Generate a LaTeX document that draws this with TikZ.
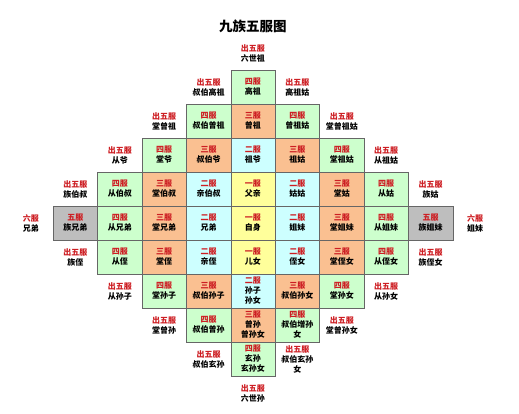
\documentclass[tikz,border=0pt]{standalone}
\usepackage{fontspec}
\setmainfont{Noto Sans CJK SC}
\definecolor{fured}{RGB}{205,30,35}
\definecolor{yiyellow}{RGB}{255,255,155}
\definecolor{ercyan}{RGB}{205,255,255}
\definecolor{sanorange}{RGB}{250,192,145}
\definecolor{sigreen}{RGB}{205,255,205}
\definecolor{wugray}{RGB}{190,190,190}
\newcommand{\fuhao}[1]{\textcolor{fured}{#1}}
\tikzset{
  fu/.style={minimum width=44.4pt, minimum height=34pt, inner sep=0pt, align=center,
             font=\fontsize{8}{10}\selectfont\bfseries},
  box/.style={fu, draw=black!60},
  lv1/.style={box, fill=yiyellow},
  lv2/.style={box, fill=ercyan},
  lv3/.style={box, fill=sanorange},
  lv4/.style={box, fill=sigreen},
  lv5/.style={box, fill=wugray}
}
\begin{document}
\begin{tikzpicture}[x=44.4pt,y=34pt]
  \useasboundingbox (-5.698,-5.588) rectangle (5.991,6.559);
  \node[font=\fontsize{13.5}{16}\selectfont\bfseries] (title) at (0,5.79) {九族五服图};

  % upward: ancestors
  \node[fu] (liushizu) at (0,5) {\fuhao{出五服}\\六世祖};

  \node[fu]  (shubogaozu) at (-1,4) {\fuhao{出五服}\\叔伯高祖};
  \node[lv4] (gaozu)      at (0,4)  {\fuhao{四服}\\高祖};
  \node[fu]  (gaozugu)    at (1,4)  {\fuhao{出五服}\\高祖姑};

  \node[fu]  (tangzengzu)   at (-2,3) {\fuhao{出五服}\\堂曾祖};
  \node[lv4] (shubozengzu)  at (-1,3) {\fuhao{四服}\\叔伯曾祖};
  \node[lv3] (zengzu)       at (0,3)  {\fuhao{三服}\\曾祖};
  \node[lv4] (zengzugu)     at (1,3)  {\fuhao{四服}\\曾祖姑};
  \node[fu]  (tangzengzugu) at (2,3)  {\fuhao{出五服}\\堂曾祖姑};

  \node[fu]  (congye)   at (-3,2) {\fuhao{出五服}\\从爷};
  \node[lv4] (tangye)   at (-2,2) {\fuhao{四服}\\堂爷};
  \node[lv3] (shuboye)  at (-1,2) {\fuhao{三服}\\叔伯爷};
  \node[lv2] (zuye)     at (0,2)  {\fuhao{二服}\\祖爷};
  \node[lv3] (zugu)     at (1,2)  {\fuhao{三服}\\祖姑};
  \node[lv4] (tangzugu) at (2,2)  {\fuhao{四服}\\堂祖姑};
  \node[fu]  (congzugu) at (3,2)  {\fuhao{出五服}\\从祖姑};

  \node[fu]  (clanbo)  at (-4,1) {\fuhao{出五服}\\族伯叔};
  \node[lv4] (congbo)  at (-3,1) {\fuhao{四服}\\从伯叔};
  \node[lv3] (tangbo)  at (-2,1) {\fuhao{三服}\\堂伯叔};
  \node[lv2] (qinbo)   at (-1,1) {\fuhao{二服}\\亲伯叔};
  \node[lv1] (fuqin)   at (0,1)  {\fuhao{一服}\\父亲};
  \node[lv2] (gugu)    at (1,1)  {\fuhao{二服}\\姑姑};
  \node[lv3] (tanggu)  at (2,1)  {\fuhao{三服}\\堂姑};
  \node[lv4] (conggu)  at (3,1)  {\fuhao{四服}\\从姑};
  \node[fu]  (clangu)  at (4,1)  {\fuhao{出五服}\\族姑};

  % own generation
  \node[fu]  (liuxiong)   at (-5,0) {\fuhao{六服}\\兄弟};
  \node[lv5] (clanxiong)  at (-4,0) {\fuhao{五服}\\族兄弟};
  \node[lv4] (congxiong)  at (-3,0) {\fuhao{四服}\\从兄弟};
  \node[lv3] (tangxiong)  at (-2,0) {\fuhao{三服}\\堂兄弟};
  \node[lv2] (xiongdi)    at (-1,0) {\fuhao{二服}\\兄弟};
  \node[lv1] (zishen)     at (0,0)  {\fuhao{一服}\\自身};
  \node[lv2] (jiemei)     at (1,0)  {\fuhao{二服}\\姐妹};
  \node[lv3] (tangjie)    at (2,0)  {\fuhao{三服}\\堂姐妹};
  \node[lv4] (congjie)    at (3,0)  {\fuhao{四服}\\从姐妹};
  \node[lv5] (clanjie)    at (4,0)  {\fuhao{五服}\\族姐妹};
  \node[fu]  (liujie)     at (5,0)  {\fuhao{六服}\\姐妹};

  % downward: descendants
  \node[fu]  (clanzhi)   at (-4,-1) {\fuhao{出五服}\\族侄};
  \node[lv4] (congzhi)   at (-3,-1) {\fuhao{四服}\\从侄};
  \node[lv3] (tangzhi)   at (-2,-1) {\fuhao{三服}\\堂侄};
  \node[lv2] (qinzhi)    at (-1,-1) {\fuhao{二服}\\亲侄};
  \node[lv1] (ernv)      at (0,-1)  {\fuhao{一服}\\儿女};
  \node[lv2] (zhinv)     at (1,-1)  {\fuhao{二服}\\侄女};
  \node[lv3] (tangzhinv) at (2,-1)  {\fuhao{三服}\\堂侄女};
  \node[lv4] (congzhinv) at (3,-1)  {\fuhao{四服}\\从侄女};
  \node[fu]  (clanzhinv) at (4,-1)  {\fuhao{出五服}\\族侄女};

  \node[fu]  (congsun)    at (-3,-2) {\fuhao{出五服}\\从孙子};
  \node[lv4] (tangsun)    at (-2,-2) {\fuhao{四服}\\堂孙子};
  \node[lv3] (shubosun)   at (-1,-2) {\fuhao{三服}\\叔伯孙子};
  \node[lv2] (sunzi)      at (0,-2)  {\fuhao{二服}\\孙子\\孙女};
  \node[lv3] (shubosunnv) at (1,-2)  {\fuhao{三服}\\叔伯孙女};
  \node[lv4] (tangsunnv)  at (2,-2)  {\fuhao{四服}\\堂孙女};
  \node[fu]  (congsunnv)  at (3,-2)  {\fuhao{出五服}\\从孙女};

  \node[fu]  (tangzengsun)    at (-2,-3) {\fuhao{出五服}\\堂曾孙};
  \node[lv4] (shubozengsun)   at (-1,-3) {\fuhao{四服}\\叔伯曾孙};
  \node[lv3] (zengsun)        at (0,-3)  {\fuhao{三服}\\曾孙\\曾孙女};
  \node[lv4] (shubozengsunnv) at (1,-3)  {\fuhao{四服}\\叔伯增孙\\女};
  \node[fu]  (tangzengsunnv)  at (2,-3)  {\fuhao{出五服}\\堂曾孙女};

  \node[fu]  (shuboxuansun)   at (-1,-4) {\fuhao{出五服}\\叔伯玄孙};
  \node[lv4] (xuansun)        at (0,-4)  {\fuhao{四服}\\玄孙\\玄孙女};
  \node[fu]  (shuboxuansunnv) at (1,-4)  {\fuhao{出五服}\\叔伯玄孙\\女};

  \node[fu] (liushisun) at (0,-5) {\fuhao{出五服}\\六世孙};
\end{tikzpicture}
\end{document}
